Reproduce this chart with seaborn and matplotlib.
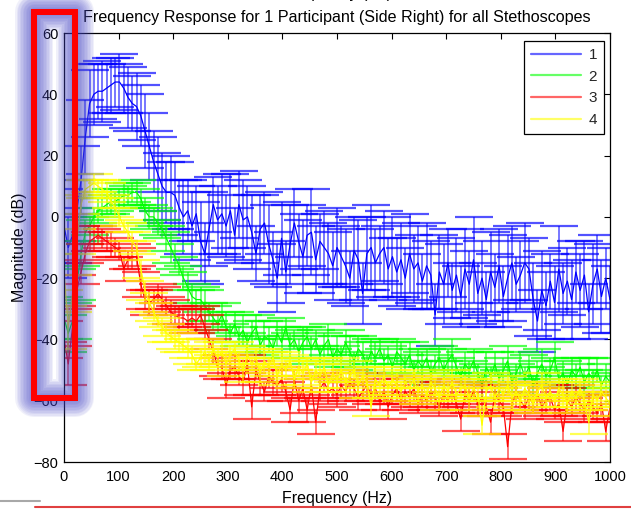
import numpy as np
import pandas as pd
import matplotlib
matplotlib.use("Agg")
import matplotlib.pyplot as plt
from matplotlib.patches import Rectangle
from matplotlib.lines import Line2D
import seaborn as sns

# FFT bin frequencies (Hz): 129 bins from 0 to 1000 Hz
n_bins = 129
freq = np.arange(n_bins) * (1000.0 / 128)

# Stethoscope 1 magnitude (dB) and its spread
mag_1 = [-3, -10, -6, 2, 12, 26, 37, 40, 41, 41,
         42, 43, 44, 44, 42, 39, 37, 36, 33, 28,
         23, 18, 14, 10, 8, 8, 7, 3, 0, 2,
         -3, 1, -8, -12, -4, 4, -1, 1, -3, 2,
         -6, 4, -1, 0, -5, -12, -4, -2, -9, -14,
         -20, -7, -18, -9, -2, -8, -13, -6, -5, -14,
         -8, -10, -12, -16, -10, -13, -16, -20, -11, -14,
         -25, -12, -10, -15, -12, -10, -17, -13, -18, -14,
         -20, -12, -17, -15, -21, -16, -19, -32, -18, -22,
         -15, -24, -19, -26, -17, -22, -14, -25, -20, -27,
         -18, -23, -16, -26, -20, -15, -22, -19, -15, -17,
         -27, -34, -24, -29, -21, -28, -17, -25, -21, -27,
         -18, -24, -19, -31, -22, -17, -26, -20, -27]
err_1 = [12, 10, 9, 10, 11, 12, 11, 10, 9, 10,
         8, 9, 8, 9, 8, 10, 9, 11, 10, 12,
         11, 10, 12, 11, 10, 12, 11, 9, 12, 10,
         11, 9, 13, 10, 12, 9, 11, 13, 10, 12,
         9, 11, 13, 10, 12, 9, 11, 10, 13, 9,
         11, 12, 10, 13, 11, 9, 12, 10, 14, 11,
         9, 12, 10, 11, 13, 10, 12, 9, 11, 13,
         10, 12, 14, 11, 9, 12, 10, 13, 11, 12,
         10, 13, 11, 12, 9, 14, 11, 10, 12, 13,
         11, 9, 12, 10, 13, 11, 14, 10, 12, 9,
         13, 11, 12, 10, 14, 12, 9, 11, 13, 10,
         12, 10, 13, 11, 9, 12, 14, 10, 11, 13,
         10, 12, 11, 9, 13, 11, 12, 10, 11]

# Stethoscope 2
mag_2 = [-33, -38, -34, -22, -12, -5, -3, 0, 2, 3,
         4, 5, 5, 6, 7, 7, 8, 8, 6, 2,
         0, 0, -2, -4, -7, -10, -13, -16, -20, -23,
         -26, -27, -27, -29, -31, -33, -35, -32, -36, -38,
         -35, -39, -37, -41, -38, -36, -42, -39, -40, -43,
         -38, -41, -36, -42, -40, -44, -41, -39, -43, -40,
         -45, -42, -40, -46, -43, -45, -41, -44, -47, -43,
         -45, -48, -44, -46, -43, -47, -45, -49, -44, -46,
         -48, -45, -50, -47, -49, -46, -51, -48, -46, -50,
         -47, -45, -49, -52, -48, -50, -47, -51, -55, -49,
         -52, -48, -53, -50, -47, -54, -51, -48, -52, -49,
         -55, -51, -48, -52, -50, -46, -53, -51, -55, -50,
         -52, -49, -54, -51, -53, -50, -55, -52, -54]
err_2 = [7, 6, 6, 5, 4, 4, 3, 3, 4, 3,
         3, 4, 3, 3, 4, 3, 3, 4, 3, 4,
         4, 3, 4, 3, 4, 5, 4, 3, 4, 5,
         4, 3, 4, 5, 3, 4, 3, 4, 5, 3,
         4, 3, 5, 3, 4, 4, 3, 5, 4, 3,
         4, 5, 3, 4, 3, 4, 5, 3, 4, 3,
         3, 4, 5, 3, 4, 3, 4, 5, 3, 4,
         4, 3, 4, 5, 3, 4, 3, 3, 4, 5,
         3, 4, 3, 4, 5, 3, 4, 3, 4, 3,
         4, 5, 3, 3, 4, 3, 4, 3, 4, 5,
         3, 4, 3, 4, 5, 3, 3, 4, 3, 4,
         3, 4, 5, 3, 4, 5, 3, 4, 3, 4,
         4, 3, 4, 5, 3, 4, 3, 4, 3]

# Stethoscope 3
mag_3 = [-40, -48, -36, -24, -18, -12, -8, -7, -6, -7,
         -8, -9, -10, -11, -17, -14, -13, -13, -22, -27,
         -28, -27, -25, -27, -29, -31, -32, -33, -33, -34,
         -33, -34, -32, -36, -40, -44, -49, -49, -55, -50,
         -49, -52, -54, -48, -62, -50, -54, -57, -52, -54,
         -55, -53, -57, -63, -53, -60, -56, -63, -55, -67,
         -56, -54, -57, -56, -58, -55, -57, -54, -56, -59,
         -57, -55, -58, -56, -60, -57, -62, -58, -56, -60,
         -57, -59, -56, -61, -58, -60, -57, -59, -62, -58,
         -60, -57, -61, -66, -58, -60, -57, -61, -59, -62,
         -67, -58, -60, -62, -75, -61, -58, -60, -62, -59,
         -61, -58, -62, -60, -59, -63, -61, -70, -60, -62,
         -59, -61, -63, -60, -62, -64, -61, -70, -62]
err_3 = [6, 7, 6, 5, 4, 3, 3, 4, 3, 3,
         3, 4, 3, 3, 4, 3, 4, 3, 4, 3,
         4, 3, 3, 4, 3, 4, 3, 4, 3, 4,
         3, 4, 3, 4, 3, 4, 3, 4, 4, 3,
         4, 3, 4, 3, 4, 3, 4, 3, 4, 4,
         3, 4, 3, 4, 3, 4, 3, 4, 3, 4,
         4, 3, 4, 3, 4, 4, 3, 4, 3, 4,
         3, 4, 3, 4, 3, 4, 4, 3, 4, 3,
         4, 3, 4, 3, 4, 3, 4, 4, 3, 4,
         3, 4, 3, 4, 3, 4, 3, 4, 4, 3,
         4, 3, 4, 3, 4, 3, 4, 3, 4, 4,
         3, 4, 3, 4, 4, 3, 4, 3, 4, 3,
         4, 3, 4, 3, 4, 3, 4, 3, 4]

# Stethoscope 4
mag_4 = [-18, -36, -25, -8, 4, 9, 10, 11, 10, 9,
         8, 5, 3, 0, -3, -5, -8, -10, -17, -24,
         -28, -31, -34, -36, -38, -39, -40, -41, -42, -43,
         -45, -48, -46, -44, -47, -43, -46, -44, -48, -45,
         -43, -47, -50, -45, -48, -46, -51, -47, -49, -46,
         -52, -48, -50, -47, -53, -49, -51, -48, -54, -50,
         -52, -49, -55, -51, -53, -50, -54, -52, -50, -55,
         -52, -54, -62, -53, -55, -52, -56, -53, -55, -57,
         -54, -56, -53, -57, -55, -58, -54, -56, -59, -55,
         -57, -54, -58, -56, -55, -59, -56, -58, -68, -57,
         -55, -59, -56, -58, -55, -59, -57, -60, -56, -58,
         -61, -57, -55, -59, -57, -60, -56, -58, -61, -57,
         -59, -56, -60, -67, -58, -60, -57, -59, -61]
err_4 = [6, 7, 6, 4, 3, 3, 2, 3, 2, 3,
         3, 2, 3, 3, 2, 3, 3, 2, 3, 3,
         3, 3, 2, 3, 3, 2, 3, 3, 2, 3,
         3, 2, 3, 4, 3, 2, 3, 3, 4, 3,
         2, 3, 4, 3, 2, 3, 3, 4, 3, 2,
         3, 4, 3, 2, 3, 3, 4, 2, 3, 3,
         4, 3, 2, 3, 3, 4, 3, 2, 3, 4,
         3, 2, 3, 4, 3, 3, 2, 3, 4, 3,
         2, 3, 3, 4, 3, 2, 3, 3, 4, 3,
         3, 4, 2, 3, 3, 4, 3, 2, 3, 3,
         4, 3, 3, 2, 3, 4, 3, 3, 2, 3,
         3, 2, 4, 3, 3, 2, 3, 4, 3, 3,
         2, 3, 3, 4, 3, 2, 3, 3, 4]

labels = ["1", "2", "3", "4"]
colors = ["#0000ff", "#00ff00", "#ff0000", "#ffff00"]
magnitudes = [mag_1, mag_2, mag_3, mag_4]
errors = [err_1, err_2, err_3, err_4]

df = pd.concat(
    [pd.DataFrame({"freq": freq, "mag": m, "err": e, "scope": lab})
     for lab, m, e in zip(labels, magnitudes, errors)],
    ignore_index=True,
)

sns.set_theme(style="white")
plt.rcParams["font.family"] = ["Liberation Sans", "DejaVu Sans"]

W, H = 631, 509
fig = plt.figure(figsize=(W / 100, H / 100), dpi=100)
ax = fig.add_axes([64 / W, 47 / H, 546 / W, 429 / H])

for lab, col in zip(labels, colors):
    d = df[df["scope"] == lab]
    ax.errorbar(d["freq"], d["mag"], yerr=d["err"], fmt="none",
                ecolor=col, elinewidth=1.1, capsize=14, capthick=1.6,
                alpha=0.68)
    sns.lineplot(data=d, x="freq", y="mag", color=col, lw=0.9,
                 estimator=None, ax=ax, legend=False)

ax.set_xlim(0, 1000)
ax.set_ylim(-80, 60)
ax.set_xticks(np.arange(0, 1001, 100))
ax.set_yticks(np.arange(-80, 61, 20))
ax.tick_params(axis="both", direction="in", length=4, width=0.8,
               color="black", labelsize=10.5, labelcolor="black",
               top=True, right=True)
ax.tick_params(axis="x", pad=6)
ax.tick_params(axis="y", pad=4)
for sp in ax.spines.values():
    sp.set_color("black")
    sp.set_linewidth(0.9)

ax.set_title("Frequency Response for 1 Participant (Side Right) for all Stethoscopes",
             fontsize=11.6, pad=8, color="black")
ax.set_xlabel("Frequency (Hz)", fontsize=11.5, labelpad=5, color="black")
ax.set_ylabel("Magnitude (dB)", fontsize=11.5, labelpad=5, color="black")

handles = [Line2D([0], [0], color=c, lw=1.6, alpha=0.6) for c in colors]
leg = ax.legend(handles, labels, loc="upper right",
                bbox_to_anchor=(0.989, 0.981), borderaxespad=0,
                fontsize=11, handlelength=3.3, handletextpad=0.5,
                labelspacing=0.5, borderpad=0.45, fancybox=False,
                framealpha=1, edgecolor="black")
leg.get_frame().set_linewidth(0.9)

# label of the panel above; only its descenders reach this canvas
fig.text(337 / W, 1 + 1.5 / H, "Frequency (Hz)", ha="center", va="baseline",
         fontsize=11.5, color="black")

# highlight box over the y-axis tick labels, with a soft halo
x0, x1, y0, y1 = 33.5, 75, 12, 398
rect_xy = (x0 / W, (H - y1) / H)
rect_w, rect_h = (x1 - x0) / W, (y1 - y0) / H
for lw_px in range(38, 6, -3):
    fig.add_artist(Rectangle(rect_xy, rect_w, rect_h, transform=fig.transFigure,
                             fill=False, ec=(0.28, 0.28, 0.78), alpha=0.08,
                             lw=lw_px * 0.72, joinstyle="round", zorder=20))
fig.add_artist(Rectangle(rect_xy, rect_w, rect_h, transform=fig.transFigure,
                         fill=False, ec="#ff0000", lw=6 * 0.72,
                         joinstyle="miter", zorder=21))

# thin rules along the bottom edge
fig.add_artist(Line2D([35 / W, 1], [(H - 507) / H] * 2, transform=fig.transFigure,
                      color="#e04040", lw=1.5, zorder=21))
fig.add_artist(Line2D([0, 40 / W], [(H - 501) / H] * 2, transform=fig.transFigure,
                      color="#a8a8a8", lw=1.5, zorder=21))

fig.savefig("out.png", dpi=100)
